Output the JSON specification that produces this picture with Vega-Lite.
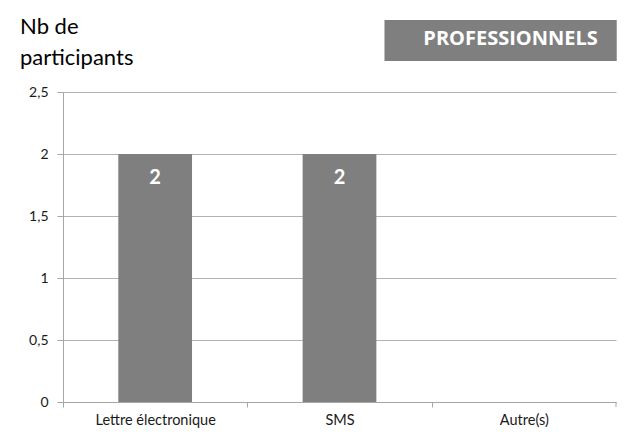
{
  "$schema": "https://vega.github.io/schema/vega-lite/v6.json",
  "autosize": "none",
  "width": 553,
  "height": 310,
  "padding": {"left": 63, "top": 92, "right": 10, "bottom": 30},
  "background": "white",
  "config": {
    "view": {"stroke": null},
    "font": "Lato"
  },
  "title": {
    "text": ["Nb de", "participants"],
    "anchor": "start",
    "frame": "group",
    "dx": -43,
    "offset": -67,
    "baseline": "alphabetic",
    "font": "Lato",
    "fontSize": 22,
    "fontWeight": "normal",
    "color": "#000000",
    "lineHeight": 31
  },
  "data": {
    "values": [
      {"mode": "Lettre électronique", "n": 2},
      {"mode": "SMS", "n": 2},
      {"mode": "Autre(s)", "n": 0}
    ]
  },
  "layer": [
    {
      "mark": {"type": "bar", "color": "#7f7f7f"},
      "encoding": {
        "x": {
          "field": "mode",
          "type": "nominal",
          "sort": null,
          "scale": {"paddingInner": 0.6, "paddingOuter": 0.3},
          "axis": {
            "title": null,
            "labelAngle": 0,
            "labelFont": "Lato",
            "labelFontSize": 14.5,
            "labelColor": "#1a1a1a",
            "labelPadding": 6,
            "domainColor": "#a6a6a6",
            "tickColor": "#a6a6a6",
            "tickSize": 5,
            "tickOffset": -92.17,
            "labelOffset": 92.17,
            "grid": false
          }
        },
        "y": {
          "field": "n",
          "type": "quantitative",
          "scale": {"domain": [0, 2.5], "nice": false},
          "axis": {
            "title": null,
            "values": [0, 0.5, 1, 1.5, 2, 2.5],
            "labelExpr": "replace(format(datum.value, '~g'), '.', ',')",
            "labelFont": "Lato",
            "labelFontSize": 14,
            "labelColor": "#1a1a1a",
            "labelPadding": 9,
            "domainColor": "#a6a6a6",
            "tickColor": "#a6a6a6",
            "tickSize": 6,
            "gridColor": "#b3b3b3",
            "grid": true
          }
        }
      }
    },
    {
      "transform": [{"filter": "datum.n > 0"}],
      "mark": {"type": "text", "color": "white", "fontWeight": "bold", "fontSize": 20, "font": "Lato", "baseline": "middle", "dy": 24},
      "encoding": {
        "x": {"field": "mode", "type": "nominal", "sort": null},
        "y": {"field": "n", "type": "quantitative"},
        "text": {"field": "n", "type": "quantitative"}
      }
    },
    {
      "data": {"values": [{"x": "Autre(s)", "y1": 0, "y2": -0.04}]},
      "mark": {"type": "rule", "color": "#a6a6a6", "clip": false},
      "encoding": {
        "x": {"field": "x", "type": "nominal", "sort": null, "bandPosition": 1.75},
        "y": {"field": "y1", "type": "quantitative"},
        "y2": {"field": "y2"}
      }
    },
    {
      "data": {"values": [{"x1": "SMS", "x2": "Autre(s)", "y1": 2.75, "y2": 3.08}]},
      "mark": {"type": "rect", "color": "#7f7f7f", "clip": false},
      "encoding": {
        "x": {"field": "x1", "type": "nominal", "sort": null, "bandPosition": 1.11},
        "x2": {"field": "x2", "bandPosition": 1.76},
        "y": {"field": "y1", "type": "quantitative"},
        "y2": {"field": "y2"}
      }
    },
    {
      "data": {"values": [{"label": "PROFESSIONNELS", "x": "Autre(s)", "ym": 2.927}]},
      "mark": {"type": "text", "color": "white", "fontWeight": "bold", "fontSize": 20, "font": "Open Sans", "baseline": "middle", "align": "center", "clip": false},
      "encoding": {
        "x": {"field": "x", "type": "nominal", "sort": null, "bandPosition": 0.32},
        "y": {"field": "ym", "type": "quantitative"},
        "text": {"field": "label"}
      }
    }
  ]
}
